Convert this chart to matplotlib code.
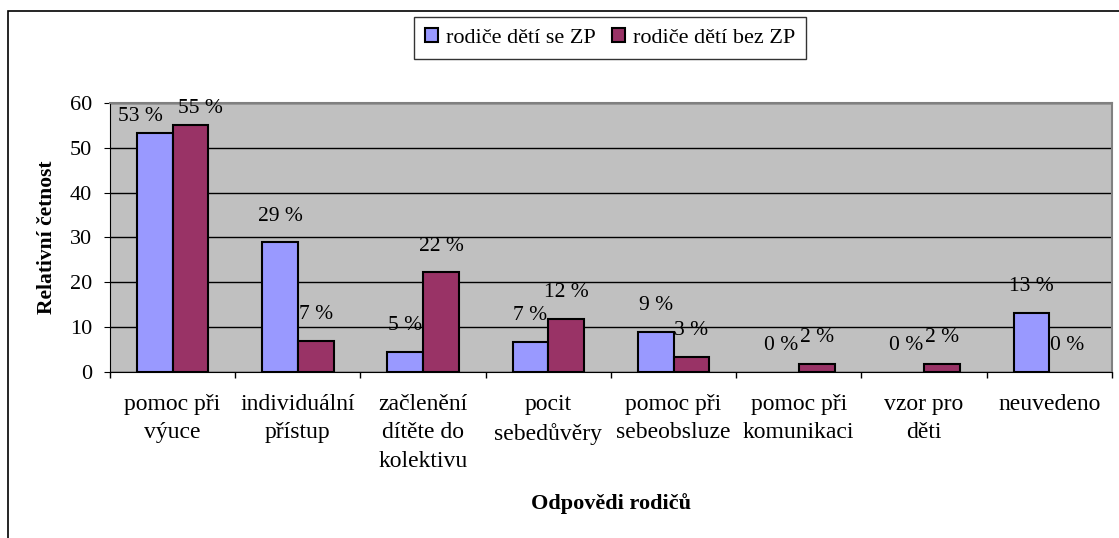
import matplotlib.pyplot as plt
import matplotlib.patches as mpatches
import numpy as np

plt.rcParams['font.family'] = ['Liberation Serif', 'DejaVu Serif']

# Data
categories = ["pomoc při\nvýuce", "individuální\npřístup", "začlenění\ndítěte do\nkolektivu",
              "pocit\nsebedůvěry", "pomoc při\nsebeobsluze", "pomoc při\nkomunikaci",
              "vzor pro\nděti", "neuvedeno"]
with_zp = [53.3, 28.9, 4.4, 6.6, 8.9, 0, 0, 13.2]
without_zp = [55.1, 7.0, 22.2, 11.8, 3.4, 1.7, 1.7, 0]
labels_with = ["53 %", "29 %", "5 %", "7 %", "9 %", "0 %", "0 %", "13 %"]
labels_without = ["55 %", "7 %", "22 %", "12 %", "3 %", "2 %", "2 %", "0 %"]
series_names = ["rodiče dětí se ZP", "rodiče dětí bez ZP"]

fig = plt.figure(figsize=(11.19, 5.38), dpi=100)
ax = fig.add_axes([0.0983, 0.3086, 0.8954, 0.5])

x = np.arange(len(categories))
w = 0.285
lw1 = [1.5 if v > 0 else 0 for v in with_zp]
lw2 = [1.5 if v > 0 else 0 for v in without_zp]
b1 = ax.bar(x - w / 2, with_zp, w, color='#9999FF', edgecolor='black', linewidth=lw1,
            label=series_names[0], zorder=3)
b2 = ax.bar(x + w / 2, without_zp, w, color='#993366', edgecolor='black', linewidth=lw2,
            label=series_names[1], zorder=3)

# value labels above bars (the tall first pair is pushed apart like in the original)
for bars, labs, nudge in [(b1, labels_with, -10), (b2, labels_without, 7)]:
    for i, (rect, lab) in enumerate(zip(bars, labs)):
        dx = nudge if i == 0 else 0
        dy = 12 if i == 0 else 19
        ax.annotate(lab, (rect.get_x() + rect.get_width() / 2, rect.get_height()),
                    xytext=(dx, dy), textcoords='offset points', ha='center', va='center',
                    fontsize=15.5, zorder=4, annotation_clip=False)

ax.set_facecolor('#C0C0C0')
ax.set_xlim(-0.5, len(categories) - 0.5)
ax.set_ylim(0, 60)
ax.set_yticks(range(0, 61, 10))
ax.yaxis.grid(True, color='black', linewidth=1)
ax.set_axisbelow(True)

for side in ['top', 'right']:
    ax.spines[side].set_color('#808080')
    ax.spines[side].set_linewidth(1.5)
ax.spines['left'].set_color('black')
ax.spines['bottom'].set_color('black')

# categories: labels centred, ticks between groups
ax.set_xticks(x)
ax.set_xticklabels(categories, fontsize=17, linespacing=1.45, va='top')
ax.tick_params(axis='x', length=0, pad=16)
ax.set_xticks(np.arange(-0.5, len(categories), 1), minor=True)
ax.tick_params(axis='x', which='minor', length=4.5, direction='out', width=1)
ax.tick_params(axis='y', length=4, direction='out', labelsize=16, pad=9)

ax.set_xlabel("Odpovědi rodičů", fontsize=16, fontweight='bold', va='center')
ax.set_ylabel("Relativní četnost", fontsize=15.5, fontweight='bold', va='center')
ax.xaxis.set_label_coords(0.5, -0.4907)
ax.yaxis.set_label_coords(-0.0629, 0.5)

leg = fig.legend(handles=[b1, b2], loc='center', bbox_to_anchor=(610 / 1119, 1 - 38 / 538),
                 ncol=2, frameon=True, fancybox=False, fontsize=16, handlelength=0.6,
                 handleheight=0.6, handletextpad=0.35, columnspacing=0.7, borderpad=0.5)
leg.get_frame().set_edgecolor('black')
leg.get_frame().set_linewidth(1)

# chart border
fig.patches.append(mpatches.Rectangle((8 / 1119, -0.05), 1.1, 1 - 11 / 538 + 0.05,
                                      transform=fig.transFigure, fill=False,
                                      edgecolor='black', linewidth=1.2))

fig.savefig("out.png", dpi=100)
